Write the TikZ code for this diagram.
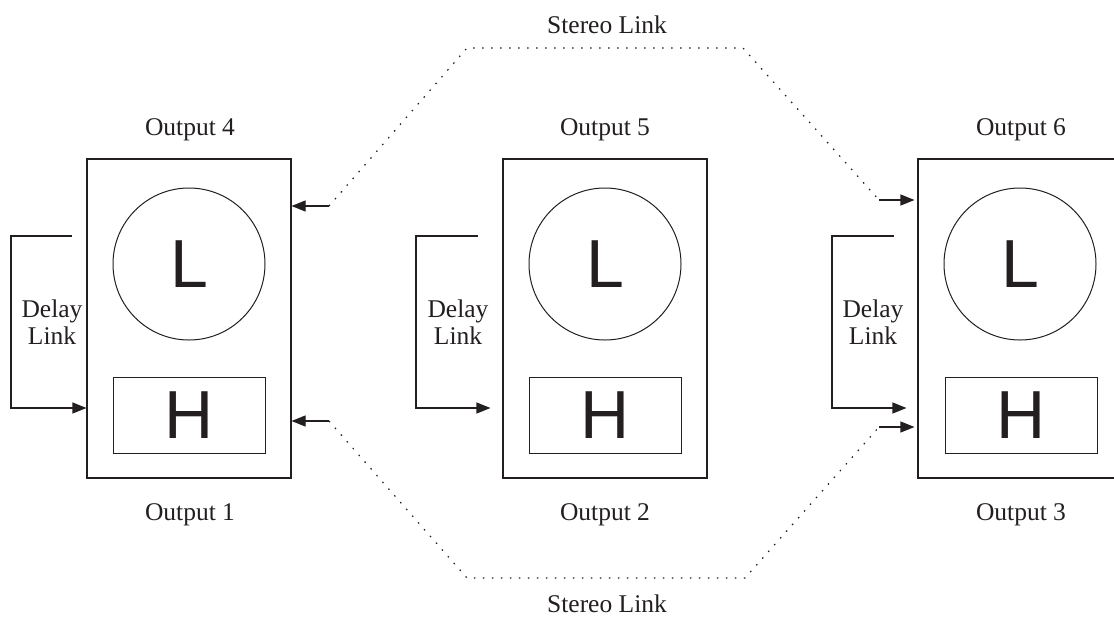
\documentclass[tikz,border=0pt]{standalone}
\usepackage{fontspec}
\setmainfont{Liberation Serif}
\newfontfamily\letterfont{Liberation Sans}
\usetikzlibrary{arrows.meta}
\definecolor{ink}{RGB}{35,31,32}
\begin{document}
\begin{tikzpicture}[x=1pt,y=-1pt,
  unit/.style={draw=ink, line width=1.1pt, minimum width=204pt, minimum height=319pt, inner sep=0pt},
  lamp/.style={circle, draw=ink, line width=1pt, minimum size=152pt, inner sep=0pt,
    text=ink, font=\letterfont\fontsize{68}{68}\selectfont},
  horn/.style={rectangle, draw=ink, line width=1pt, minimum width=152pt, minimum height=76pt,
    inner sep=0pt, text=ink, font=\letterfont\fontsize{68}{68}\selectfont},
  lbl/.style={text=ink, inner sep=0pt, font=\fontsize{25.5}{27}\selectfont},
  dlbl/.style={lbl, align=center},
  tip/.style={-{Triangle[length=14pt,width=11pt]}},
  delayline/.style={draw=ink, line width=1.1pt, tip},
  linkarrow/.style={draw=ink, line width=1.1pt, tip},
  stereoline/.style={draw=ink, line width=1.2pt, dash pattern=on 1.5pt off 7.5pt}
]
\useasboundingbox (0,0) rectangle (1114,619);
\clip (0,0) rectangle (1114,619);

% three output units: lower/upper drivers inside a cabinet
\node[unit] (unitA) at (189,318.5) {};
\node[unit] (unitB) at (605,318.5) {};
\node[unit] (unitC) at (1020,318.5) {};

\node[lamp] (lowA) at (189,264) {L};
\node[lamp] (lowB) at (605,264) {L};
\node[lamp] (lowC) at (1020,264) {L};

\node[horn] (highA) at (189,415) {H};
\node[horn] (highB) at (605,415) {H};
\node[horn] (highC) at (1021,415) {H};

% output names
\node[lbl, anchor=base] (outD) at (190,135) {Output 4};
\node[lbl, anchor=base] (outE) at (605,135) {Output 5};
\node[lbl, anchor=base] (outF) at (1021,135) {Output 6};
\node[lbl, anchor=base] (outA) at (190,520) {Output 1};
\node[lbl, anchor=base] (outB) at (605,520) {Output 2};
\node[lbl, anchor=base] (outC) at (1021,520) {Output 3};

% delay links
\coordinate (dA1) at (72,236);  \coordinate (dA2) at (11,236);  \coordinate (dA3) at (11,408);
\coordinate (dB1) at (478,236); \coordinate (dB2) at (416,236); \coordinate (dB3) at (416,408);
\coordinate (dC1) at (894,236); \coordinate (dC2) at (832,236); \coordinate (dC3) at (832,408);
\draw[delayline] (dA1) -- (dA2) -- (dA3) -- (dA3 -| unitA.west);
\draw[delayline] (dB1) -- (dB2) -- (dB3) -- ([xshift=-12pt]dB3 -| unitB.west);
\draw[delayline] (dC1) -- (dC2) -- (dC3) -- ([xshift=-11pt]dC3 -| unitC.west);
\node[dlbl] (delayA) at (52,322) {Delay\\Link};
\node[dlbl] (delayB) at (458,322) {Delay\\Link};
\node[dlbl] (delayC) at (873,322) {Delay\\Link};

% stereo links
\coordinate (sT1) at (329,206); \coordinate (sT2) at (467,48);
\coordinate (sT3) at (743,48);  \coordinate (sT4) at (879,200);
\coordinate (sB1) at (329,421); \coordinate (sB2) at (467,578);
\coordinate (sB3) at (745,578); \coordinate (sB4) at (879,427);
\draw[stereoline] (sT1) -- (sT2) -- (sT3) -- (sT4);
\draw[stereoline] (sB1) -- (sB2) -- (sB3) -- (sB4);
\draw[linkarrow] (sT1) -- (sT1 -| unitA.east);
\draw[linkarrow] (sB1) -- (sB1 -| unitA.east);
\draw[linkarrow] (sT4) -- ([xshift=-3pt]sT4 -| unitC.west);
\draw[linkarrow] (sB4) -- ([xshift=-3pt]sB4 -| unitC.west);
\node[lbl, anchor=base] (stereoTop) at (607,33) {Stereo Link};
\node[lbl, anchor=base] (stereoBot) at (607,612) {Stereo Link};
\end{tikzpicture}
\end{document}
